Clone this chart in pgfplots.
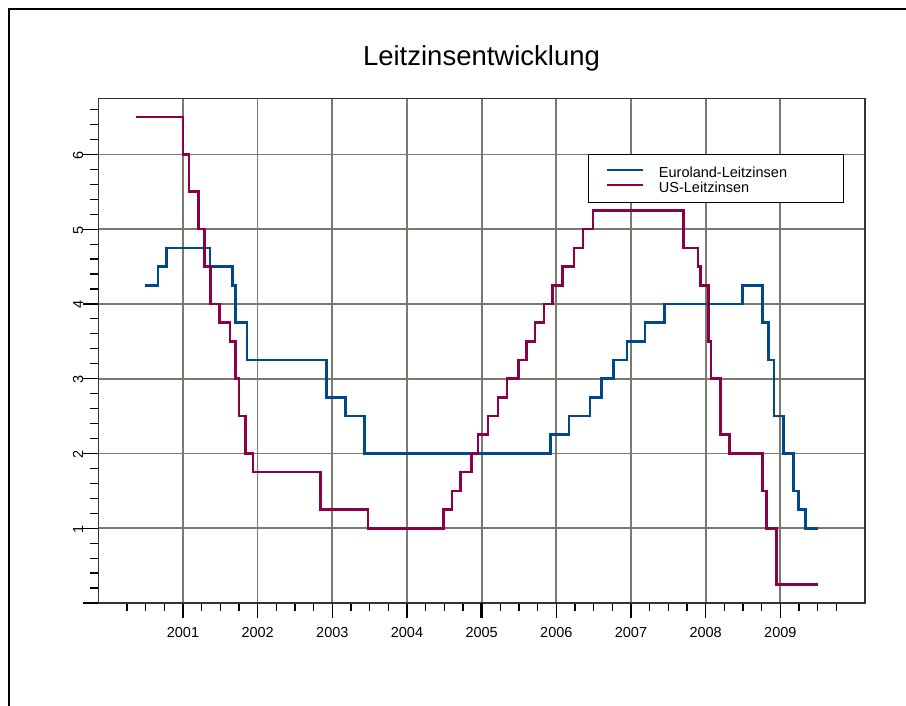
\documentclass[border=0pt]{standalone}
\usepackage{fontspec}
\setmainfont{Liberation Sans}
\usepackage{pgfplots}
\pgfplotsset{compat=1.18}
\definecolor{eublue}{RGB}{0,72,140}
\definecolor{uspurple}{RGB}{140,0,72}
\definecolor{gridgray}{RGB}{122,122,112}
\begin{document}
\begin{tikzpicture}
\useasboundingbox (0bp,0bp) rectangle (906bp,-706bp);
\draw[line width=2bp] (8.5bp,-707bp) -- (8.5bp,-8.5bp) -- (907bp,-8.5bp);
\node[anchor=base, inner sep=0pt, font=\fontsize{27.5bp}{30bp}\selectfont] at (481.5bp,-65bp) {Leitzinsentwicklung};
\begin{axis}[
  at={(98.3bp,-98.3bp)}, anchor=north west, scale only axis,
  width=766.7bp, height=504.7bp,
  xmin=1999.866, xmax=2010.134, ymin=0, ymax=6.75,
  xtick={2001,2002,2003,2004,2005,2006,2007,2008,2009},
  xticklabels={2001,2002,2003,2004,2005,2006,2007,2008,2009},
  ytick={0,1,2,3,4,5,6},
  yticklabels={,1,2,3,4,5,6},
  minor xtick={2000.25,2000.5,2000.75,2001.25,2001.5,2001.75,2002.25,2002.5,2002.75,2003.25,2003.5,2003.75,2004.25,2004.5,2004.75,2005.25,2005.5,2005.75,2006.25,2006.5,2006.75,2007.25,2007.5,2007.75,2008.25,2008.5,2008.75,2009.25,2009.5,2009.75},
  minor ytick={0.2,0.4,0.6,0.8,1.2,1.4,1.6,1.8,2.2,2.4,2.6,2.8,3.2,3.4,3.6,3.8,4.2,4.4,4.6,4.8,5.2,5.4,5.6,5.8,6.2,6.4,6.6},
  extra x ticks={2005}, extra x tick labels={},
  extra x tick style={grid=none, major tick style={line width=3bp}},
  tick align=outside, xtick pos=bottom, ytick pos=left,
  major tick length=15bp, minor tick length=8bp,
  every tick/.style={black, line width=1.2bp},
  grid=major, major grid style={gridgray, line width=1.7bp},
  axis line style={black!80, line width=1.2bp},
  xticklabel style={font=\fontsize{14.5bp}{16bp}\selectfont, inner sep=0pt, anchor=north, yshift=-9.5bp},
  yticklabel style={font=\fontsize{14.5bp}{16bp}\selectfont, inner sep=0pt, rotate=90, anchor=south, xshift=-1bp},
  legend style={at={(0.6389,0.8891)}, anchor=north west, draw=black, line width=1.2bp, fill=white,
    inner xsep=17.7bp, inner ysep=8.4bp, column sep=14.5bp, row sep=0pt,
    font=\fontsize{14.5bp}{15.6bp}\selectfont,
    nodes={inner sep=0pt, text height=14bp, text depth=1.6bp, anchor=base west},
    cells={anchor=base west}},
  legend image code/.code={\draw[#1, line width=2bp] (0bp,7.7bp) -- (36bp,7.7bp);},
]
\addplot[const plot, eublue, line width=2.6bp] coordinates {
(2000.49,4.25) (2000.665,4.5) (2000.78,4.75) (2001.36,4.5) (2001.665,4.25) (2001.705,3.75)
(2001.855,3.25) (2002.925,2.75) (2003.175,2.5) (2003.43,2.0) (2005.92,2.25) (2006.17,2.5)
(2006.45,2.75) (2006.605,3.0) (2006.765,3.25) (2006.945,3.5) (2007.19,3.75) (2007.445,4.0)
(2008.495,4.25) (2008.76,3.75) (2008.845,3.25) (2008.915,2.5) (2009.04,2.0) (2009.175,1.5)
(2009.245,1.25) (2009.34,1.0) (2009.505,1.0)};
\addlegendentry{\makebox[167bp][l]{Euroland-Leitzinsen}}
\addplot[const plot, uspurple, line width=2.6bp] coordinates {
(2000.365,6.5) (2001.0,6.0) (2001.08,5.5) (2001.21,5.0) (2001.29,4.5) (2001.365,4.0)
(2001.49,3.75) (2001.63,3.5) (2001.70,3.0) (2001.75,2.5) (2001.84,2.0) (2001.94,1.75)
(2002.845,1.25) (2003.48,1.0) (2004.49,1.25) (2004.605,1.5) (2004.72,1.75) (2004.86,2.0)
(2004.95,2.25) (2005.085,2.5) (2005.22,2.75) (2005.34,3.0) (2005.495,3.25) (2005.60,3.5)
(2005.715,3.75) (2005.835,4.0) (2005.945,4.25) (2006.085,4.5) (2006.235,4.75) (2006.355,5.0)
(2006.49,5.25) (2007.705,4.75) (2007.90,4.5) (2007.93,4.25) (2008.04,3.5) (2008.07,3.0)
(2008.20,2.25) (2008.32,2.0) (2008.76,1.5) (2008.815,1.0) (2008.945,0.25) (2009.50,0.25)};
\addlegendentry{\makebox[167bp][l]{US-Leitzinsen}}
\end{axis}
\end{tikzpicture}
\end{document}
